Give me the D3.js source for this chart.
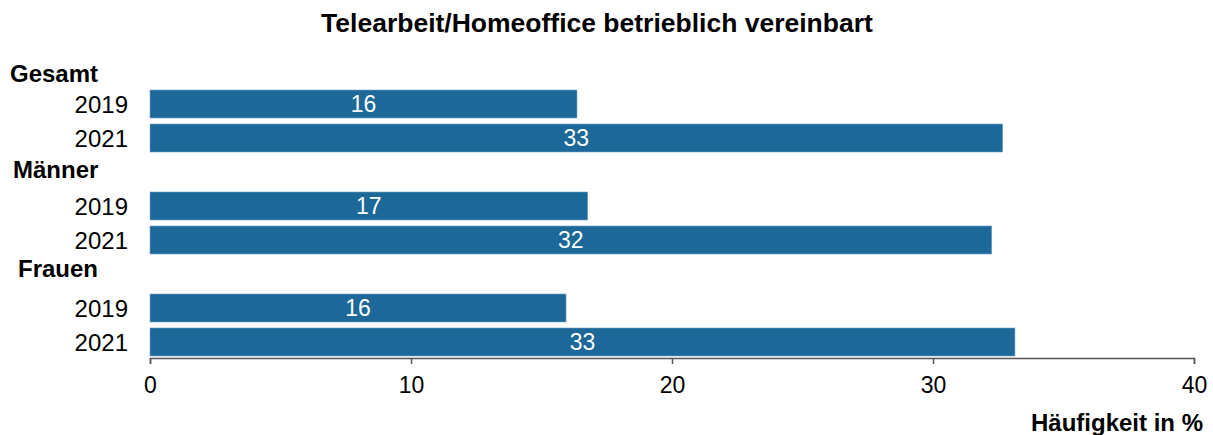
<!DOCTYPE html>
<html>
<head>
<meta charset="utf-8">
<script src="https://cdn.jsdelivr.net/npm/d3@7"></script>
<style>
  body { margin: 0; background: #fff; }
  text { font-family: "Liberation Sans", Arial, sans-serif; }
</style>
</head>
<body>
<div id="chart"></div>
<script>
// Data
var groups = ["Gesamt", "Männer", "Frauen"];
var years = ["2019", "2021"];
var values2019 = [16.36, 16.77, 15.94];
var values2021 = [32.67, 32.25, 33.14];
var xTicks = [0, 10, 20, 30, 40];

var svgWidth = 1213,
    svgHeight = 435,
    barColor = "#1b6899",
    axisColor = "#555";

var svg = d3.select("#chart").append("svg")
    .attr("width", svgWidth)
    .attr("height", svgHeight);

// Rows: one header row per group, then one row per year
var rows = [];
groups.forEach(function(g, i) {
    rows.push({key: g, type: "head", group: g});
    rows.push({key: g + "-2019", type: "bar", year: years[0], value: values2019[i]});
    rows.push({key: g + "-2021", type: "bar", year: years[1], value: values2021[i]});
});

var xScale = d3.scaleLinear()
    .domain([0, 40])
    .range([150, 1194]);

var yScale = d3.scaleBand()
    .domain(rows.map(function(d) { return d.key; }))
    .range([53, 359])
    .paddingInner(0.176)
    .paddingOuter(0.088);

var barRows = rows.filter(function(d) { return d.type == "bar"; });
var headRows = rows.filter(function(d) { return d.type == "head"; });

// Bars
svg.append("g")
    .selectAll("rect")
    .data(barRows)
    .enter()
    .append("rect")
        .attr("x", xScale(0))
        .attr("y", function(d) { return yScale(d.key); })
        .attr("width", function(d) { return xScale(d.value) - xScale(0); })
        .attr("height", yScale.bandwidth())
        .attr("fill", barColor)
        .attr("stroke", "#7aa6c6")
        .attr("stroke-width", 0.6);

// Value labels inside the bars
svg.append("g")
    .selectAll("text")
    .data(barRows)
    .enter()
    .append("text")
        .attr("x", function(d) { return (xScale(0) + xScale(d.value)) / 2; })
        .attr("y", function(d) { return yScale(d.key) + yScale.bandwidth() / 2; })
        .attr("dy", "0.36em")
        .attr("text-anchor", "middle")
        .attr("font-size", 23)
        .attr("fill", "white")
        .text(function(d) { return Math.round(d.value); });

// Year labels
svg.append("g")
    .selectAll("text")
    .data(barRows)
    .enter()
    .append("text")
        .attr("x", 128)
        .attr("y", function(d) { return yScale(d.key) + yScale.bandwidth() / 2; })
        .attr("dy", "0.36em")
        .attr("text-anchor", "end")
        .attr("font-size", 24)
        .attr("fill", "#000")
        .text(function(d) { return d.year; });

// Group headers (slightly staggered like the original)
var headX = [10, 13, 18],
    headShift = [3, -3, -6];
svg.append("g")
    .selectAll("text")
    .data(headRows)
    .enter()
    .append("text")
        .attr("x", function(d, i) { return headX[i]; })
        .attr("y", function(d, i) { return yScale(d.key) + yScale.bandwidth() / 2 + headShift[i]; })
        .attr("dy", "0.36em")
        .attr("font-size", 24)
        .attr("font-weight", "bold")
        .attr("fill", "#000")
        .text(function(d) { return d.group; });

// X axis
var xAxis = svg.append("g")
    .attr("transform", "translate(0, 358)")
    .call(d3.axisBottom(xScale).tickValues(xTicks).tickSize(6).tickSizeOuter(6));

xAxis.selectAll("path, line")
    .attr("stroke", axisColor)
    .attr("stroke-width", 1.5);
xAxis.selectAll("text")
    .attr("y", 35)
    .attr("dy", 0)
    .attr("font-size", 23)
    .attr("font-family", "Liberation Sans, Arial, sans-serif")
    .attr("fill", "#000");

// Axis title
svg.append("text")
    .attr("x", 1203)
    .attr("y", 431)
    .attr("text-anchor", "end")
    .attr("font-size", 24)
    .attr("font-weight", "bold")
    .text("Häufigkeit in %");

// Chart title
svg.append("text")
    .attr("x", 597)
    .attr("y", 32)
    .attr("text-anchor", "middle")
    .attr("font-size", 26.5)
    .attr("font-weight", "bold")
    .text("Telearbeit/Homeoffice betrieblich vereinbart");
</script>
</body>
</html>
